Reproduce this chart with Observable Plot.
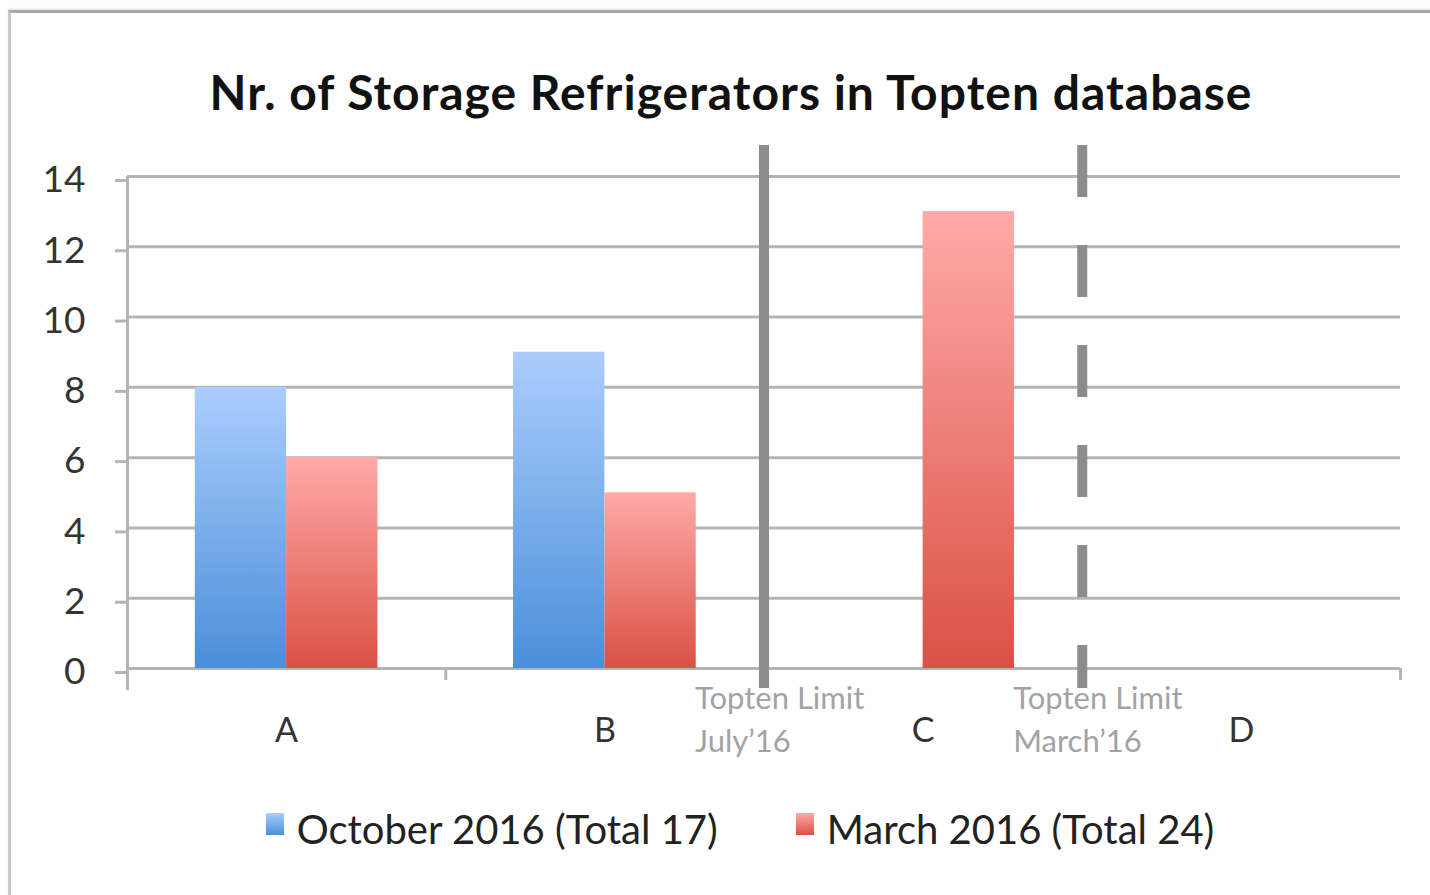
<!DOCTYPE html>
<html><head><meta charset="utf-8">
<script src="https://cdn.jsdelivr.net/npm/d3@7"></script>
<script src="https://cdn.jsdelivr.net/npm/@observablehq/plot@0.6"></script>
<style>
html,body{margin:0;padding:0;background:#fff;}
body{width:1430px;height:895px;overflow:hidden;position:relative;font-family:Lato,"Open Sans",sans-serif;}
#frame{position:absolute;left:8px;top:10px;width:1440px;height:900px;border-top:3px solid #a8a8a8;border-left:3px solid #c8c8c8;box-shadow:0 -1px 2px #ddd;}
#title{position:absolute;top:62px;left:0;width:1462px;text-align:center;font-weight:700;font-size:48px;letter-spacing:1px;color:#111;line-height:60px;}
#chart{position:absolute;left:0;top:120px;}
#legend{position:absolute;top:804px;left:0;width:1480px;display:flex;justify-content:center;gap:78px;font-size:40px;color:#222;line-height:50px;}
.item{display:flex;align-items:center;}
.sw{width:18px;height:22px;margin-right:13px;margin-top:-10px;}
</style></head>
<body>
<div id="frame"></div>
<div id="title">Nr. of Storage Refrigerators in Topten database</div>
<div id="chart"></div>
<div id="legend"></div>
<script>
const categories = ["A", "B", "C", "D"];
const october2016 = [8, 9, 0, 0];
const march2016 = [6, 5, 13, 0];
const seriesNames = ["October 2016 (Total 17)", "March 2016 (Total 24)"];
const yTicks = [0, 2, 4, 6, 8, 10, 12, 14];
const limitPositions = [1.5, 2.5];
const limitLabels = ["Topten Limit\nJuly\u201916", "Topten Limit\nMarch\u201916"];
const limitDash = ["none", "52,48"];

const barW = 0.287;
const rows = [];
categories.forEach((c, i) => {
  rows.push({i, s: 0, v: october2016[i]});
  rows.push({i, s: 1, v: march2016[i]});
});
const bars = rows.filter(d => d.v > 0);
const boundaries = d3.range(-0.5, categories.length, 1);
const limits = limitPositions.map((p, k) => ({x: p, label: limitLabels[k], dash: limitDash[k]}));

const defs = () => {
  const g = d3.create("svg:defs");
  const mk = (id, top, bot) => {
    const lg = g.append("linearGradient").attr("id", id).attr("x1", 0).attr("y1", 0).attr("x2", 0).attr("y2", 1);
    lg.append("stop").attr("offset", "0%").attr("stop-color", top);
    lg.append("stop").attr("offset", "100%").attr("stop-color", bot);
  };
  mk("gBlue", "#abcdfd", "#4a8fd9");
  mk("gRed", "#ffaaa7", "#da5145");
  return g.node();
};

const chart = Plot.plot({
  width: 1430,
  height: 660,
  marginLeft: 127,
  marginRight: 30,
  marginTop: 56,
  marginBottom: 112,
  x: {domain: [-0.5, 3.5], label: null},
  y: {domain: [0, 14], label: null},
  style: {fontFamily: "Lato, 'Open Sans', sans-serif", background: "transparent"},
  marks: [
    defs,
    Plot.gridY(yTicks, {stroke: "#b4b4b4", strokeWidth: 3, strokeOpacity: 1}),
    Plot.ruleX([-0.5], {y1: -0.63, y2: 14, stroke: "#b4b4b4", strokeWidth: 3}),
    Plot.ruleX(boundaries.slice(1), {y1: 0, y2: -0.34, stroke: "#b4b4b4", strokeWidth: 3}),
    Plot.axisY({ticks: yTicks, label: null, tickSize: 12, tickPadding: 30, fontSize: 37, dy: 4, stroke: "#b4b4b4", strokeWidth: 3, fill: "#333"}),
    Plot.axisX({ticks: d3.range(categories.length), label: null, tickFormat: i => categories[i], tickSize: 0, tickPadding: 49, fontSize: 34, fill: "#333"}),
    Plot.rectY(bars.filter(d => d.s === 0), {x1: d => d.i - barW, x2: d => d.i, y: "v", fill: "url(#gBlue)"}),
    Plot.rectY(bars.filter(d => d.s === 1), {x1: d => d.i, x2: d => d.i + barW, y: "v", fill: "url(#gRed)"}),
    Plot.ruleX(limits.filter(d => d.dash === "none"), {x: "x", y1: 14.88, y2: -0.57, stroke: "#8c8c8c", strokeWidth: 10}),
    Plot.ruleX(limits.filter(d => d.dash !== "none"), {x: "x", y1: 14.88, y2: -0.57, stroke: "#8c8c8c", strokeWidth: 10, strokeDasharray: "52,48"}),
    Plot.text(limits, {x: "x", y: 0, text: "label", dx: -69, dy: 10, textAnchor: "start", lineAnchor: "top", lineHeight: 1.39, fontSize: 31, fill: "#a3a3a3"})
  ]
});
document.getElementById("chart").appendChild(chart);

const legend = document.getElementById("legend");
const swatch = ["linear-gradient(#abcdfd,#4a8fd9)", "linear-gradient(#ffaaa7,#da5145)"];
seriesNames.forEach((n, k) => {
  const it = document.createElement("div");
  it.className = "item";
  const sw = document.createElement("span");
  sw.className = "sw";
  sw.style.background = swatch[k];
  const t = document.createElement("span");
  t.textContent = n;
  it.appendChild(sw); it.appendChild(t);
  legend.appendChild(it);
});
</script>
</body></html>
